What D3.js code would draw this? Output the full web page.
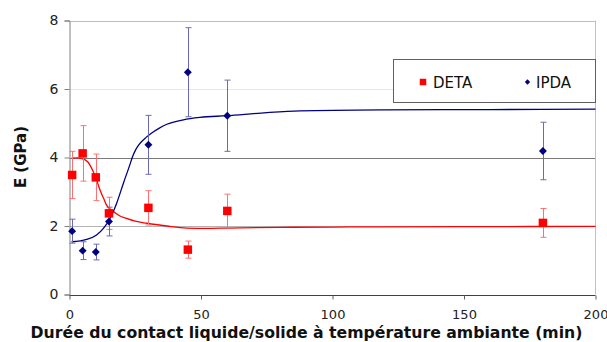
<!DOCTYPE html>
<html><head><meta charset="utf-8">
<script src="https://cdn.jsdelivr.net/npm/d3@7"></script>
<style>body{margin:0;background:#fff}svg{display:block}</style>
</head><body>
<svg id="c" width="607" height="342"></svg>
<script>
const xTicks = [0, 50, 100, 150, 200];
const yTicks = [0, 2, 4, 6, 8];
const times = [1, 5, 10, 15, 30, 45, 60, 180];
const detaE = [3.49, 4.12, 3.42, 2.37, 2.53, 1.31, 2.44, 2.09];
const detaErr = [0.69, 0.81, 0.68, 0.47, 0.50, 0.25, 0.49, 0.42];
const ipdaE = [1.85, 1.28, 1.24, 2.13, 4.37, 6.49, 5.22, 4.19];
const ipdaErr = [0.35, 0.26, 0.23, 0.42, 0.86, 1.30, 1.04, 0.84];
const detaFitX = [0.8, 3, 6, 8, 9, 10.5, 11.6, 13, 14.1, 16.7, 19, 21.7, 25, 29.4, 37, 44.6, 52, 60, 80, 100, 150, 200];
const detaFitY = [3.98, 3.99, 3.93, 3.75, 3.59, 3.3, 3.05, 2.8, 2.61, 2.42, 2.3, 2.22, 2.14, 2.08, 2.0, 1.94, 1.93, 1.94, 1.96, 1.97, 1.98, 1.99];
const ipdaFitX = [0.8, 6.5, 10.3, 12.9, 15.4, 17.9, 20.5, 23, 24, 25, 26, 27, 29, 31, 34, 37, 43.3, 49.6, 59.8, 75, 87.6, 120, 160, 200];
const ipdaFitY = [1.54, 1.61, 1.74, 1.93, 2.22, 2.66, 3.25, 3.80, 4.03, 4.20, 4.33, 4.43, 4.58, 4.70, 4.85, 4.97, 5.10, 5.17, 5.22, 5.31, 5.36, 5.39, 5.40, 5.41];
const seriesNames = ["DETA", "IPDA"];
const xTitle = "Durée du contact liquide/solide à température ambiante (min)";
const yTitle = "E (GPa)";

const svg = d3.select("#c");
const x = d3.scaleLinear().domain([0, 200]).range([69.5, 595.5]);
const y = d3.scaleLinear().domain([0, 8]).range([294.5, 20.5]);

// gridlines
const gridColor = {0: "none", 2: "#b4b4b4", 4: "#7a7a7a", 6: "#e6e6e6", 8: "#bdbdbd"};
svg.append("g").selectAll("line").data(yTicks.filter(d => d > 0)).join("line")
  .attr("x1", x(0)).attr("x2", x(200))
  .attr("y1", d => Math.round(y(d)) + 0.5).attr("y2", d => Math.round(y(d)) + 0.5)
  .attr("stroke", d => gridColor[d]).attr("stroke-width", 1);
// right border
svg.append("line").attr("x1", x(200)).attr("x2", x(200)).attr("y1", y(8)).attr("y2", y(0))
  .attr("stroke", "#c0c0c0");

// y axis
const yAxis = svg.append("g").attr("transform", `translate(${x(0)},0)`)
  .call(d3.axisLeft(y).tickValues(yTicks).tickSize(5).tickPadding(6).tickFormat(d3.format("d")));
yAxis.select(".domain").attr("stroke", "#808080");
yAxis.selectAll(".tick line").attr("stroke", "#808080");
yAxis.selectAll("text").attr("font-family", "DejaVu Sans").attr("font-size", 14).attr("fill", "#222");

// x axis
const xAxis = svg.append("g").attr("transform", `translate(0,${Math.round(y(0)) + 0.5})`)
  .call(d3.axisBottom(x).tickValues(xTicks).tickSize(4).tickPadding(10).tickFormat(d3.format("d")));
xAxis.select(".domain").attr("stroke", "#404040").attr("d", `M${x(0)},0H${x(200)}`);
xAxis.selectAll(".tick line").attr("stroke", "#606060");
xAxis.selectAll("text").attr("font-family", "DejaVu Sans").attr("font-size", 13).attr("fill", "#222");

// titles
svg.append("text").attr("x", 306.5).attr("y", 338).attr("text-anchor", "middle")
  .attr("font-family", "DejaVu Sans").attr("font-weight", "bold").attr("font-size", 15.7)
  .attr("fill", "#111").text(xTitle);
svg.append("text").attr("transform", "translate(26,157) rotate(-90)").attr("text-anchor", "middle")
  .attr("font-family", "DejaVu Sans").attr("font-weight", "bold").attr("font-size", 15)
  .attr("fill", "#111").text(yTitle);

// fit curves
const line = d3.line().x(d => x(d[0])).y(d => y(d[1])).curve(d3.curveMonotoneX);
svg.append("path").datum(detaFitX.map((v, i) => [v, detaFitY[i]]))
  .attr("d", line).attr("fill", "none").attr("stroke", "#ff0000").attr("stroke-width", 1.3);
svg.append("path").datum(ipdaFitX.map((v, i) => [v, ipdaFitY[i]]))
  .attr("d", line).attr("fill", "none").attr("stroke", "#000080").attr("stroke-width", 1.3);

// error bars
function errBars(vals, errs, color) {
  const g = svg.append("g").attr("stroke", color).attr("stroke-width", 1);
  times.forEach((t, i) => {
    const cx = Math.round(x(t)) + 0.5;
    const y1 = y(vals[i] + errs[i]), y2 = y(vals[i] - errs[i]);
    g.append("line").attr("x1", cx).attr("x2", cx).attr("y1", y1).attr("y2", y2);
    g.append("line").attr("x1", cx - 3).attr("x2", cx + 3).attr("y1", y1).attr("y2", y1);
    g.append("line").attr("x1", cx - 3).attr("x2", cx + 3).attr("y1", y2).attr("y2", y2);
  });
}
errBars(detaE, detaErr, "#ff7070");
errBars(ipdaE, ipdaErr, "#6a6ab8");

// markers
const sq = d3.symbol().type(d3.symbolSquare).size(72);
const dm = d3.symbol().type(d3.symbolDiamond2).size(40);
svg.append("g").selectAll("path").data(times.map((t, i) => [t, detaE[i]])).join("path")
  .attr("d", sq).attr("transform", d => `translate(${x(d[0])},${y(d[1])})`).attr("fill", "#ff0000");
svg.append("g").selectAll("path").data(times.map((t, i) => [t, ipdaE[i]])).join("path")
  .attr("d", dm).attr("transform", d => `translate(${x(d[0])},${y(d[1])})`).attr("fill", "#000080");

// legend
const lg = svg.append("g");
lg.append("rect").attr("x", 393.5).attr("y", 59.5).attr("width", 202).attr("height", 43)
  .attr("fill", "#fff").attr("stroke", "#606060");
lg.append("path").attr("d", d3.symbol().type(d3.symbolSquare).size(42)).attr("transform", "translate(423,82)").attr("fill", "#ff0000");
lg.append("text").attr("x", 433).attr("y", 87.5).attr("font-family", "DejaVu Sans").attr("font-size", 15).attr("fill", "#111").text(seriesNames[0]);
lg.append("path").attr("d", d3.symbol().type(d3.symbolDiamond2).size(18)).attr("transform", "translate(527.5,82)").attr("fill", "#000080");
lg.append("text").attr("x", 536).attr("y", 87.5).attr("font-family", "DejaVu Sans").attr("font-size", 15).attr("fill", "#111").text(seriesNames[1]);
</script>
</body></html>
